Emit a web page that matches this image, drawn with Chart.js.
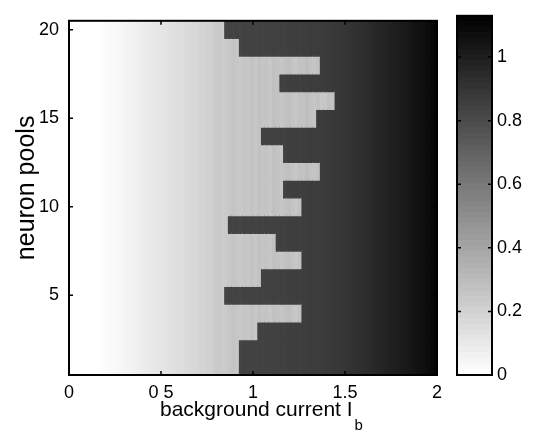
<!DOCTYPE html>
<html>
<head>
<meta charset="utf-8">
<script src="https://cdn.jsdelivr.net/npm/chart.js@4.4.1/dist/chart.umd.min.js"></script>
<style>
  html, body { margin: 0; padding: 0; background: #fff; }
  #wrap { position: relative; width: 535px; height: 438px; }
  #heat { position: absolute; left: 0; top: 0; }
  #bar { position: absolute; left: 440px; top: 0; }
</style>
</head>
<body>
<div id="wrap">
  <canvas id="heat" width="450" height="438"></canvas>
  <canvas id="bar" width="95" height="438"></canvas>
</div>
<script>
const FONT = '"Liberation Sans", Arial, Helvetica, sans-serif';

// neuron pools, bottom row first
const pools = ['1', '2', '3', '4', '5', '6', '7', '8', '9', '10',
               '11', '12', '13', '14', '15', '16', '17', '18', '19', '20'];

// background current grid
const currentStep = 0.02;
const currentCount = 100;

// current at which each pool jumps to the high state (pool 1 first)
const switchCurrent = [0.92, 0.92, 1.02, 1.26, 0.84, 1.04, 1.26, 1.12, 0.86, 1.26,
                       1.16, 1.36, 1.16, 1.04, 1.34, 1.44, 1.14, 1.36, 0.92, 0.84];

// low-state activity per current column, starting at I_b = 0
const lowBranch = [
  0, 0, 0, 0, 0, 0, 0, 0, 0.004, 0.014,
  0.016, 0.024, 0.026, 0.036, 0.04, 0.052, 0.054, 0.064, 0.068, 0.078,
  0.082, 0.092, 0.096, 0.106, 0.11, 0.12, 0.122, 0.132, 0.136, 0.148,
  0.148, 0.16, 0.164, 0.174, 0.178, 0.19, 0.192, 0.204, 0.206, 0.23,
  0.238, 0.226, 0.232, 0.25, 0.262, 0.248, 0.24, 0.256, 0.25, 0.264,
  0.246, 0.27, 0.258, 0.262, 0.248, 0.276, 0.266, 0.254, 0.268, 0.282,
  0.26, 0.25, 0.272, 0.264, 0.286, 0.27, 0.258, 0.276, 0.244, 0.25,
  0.28, 0.266
];

// high-state activity per current column, starting at I_b = 0.84
const highBranchStart = 0.84;
const highBranch = [
  0.826, 0.832, 0.828, 0.834, 0.83, 0.836, 0.832, 0.838, 0.834, 0.84,
  0.836, 0.842, 0.838, 0.846, 0.842, 0.848, 0.844, 0.852, 0.85, 0.856,
  0.852, 0.858, 0.856, 0.862, 0.86, 0.866, 0.864, 0.87, 0.872, 0.876,
  0.88, 0.886, 0.89, 0.898, 0.904, 0.912, 0.918, 0.926, 0.932, 0.94,
  0.948, 0.956, 0.962, 0.97, 0.978, 0.986, 0.994, 1.002, 1.012, 1.02,
  1.03, 1.04, 1.05, 1.06, 1.07, 1.082, 1.094, 1.108
];

const xTickText = ['0', '0 5', '1', '1.5', '2'];
const colorMax = 1.13;
const colorLevels = 64;

function activity(row, col) {
  const switchCol = Math.round(switchCurrent[row] / currentStep);
  if (col < switchCol) return lowBranch[col];
  return highBranch[col - Math.round(highBranchStart / currentStep)];
}

// reversed gray colormap: 0 -> white, colorMax -> black
function gray(v) {
  const t = Math.min(Math.max(v / colorMax, 0), 1);
  const g = Math.round(255 * (1 - t));
  return 'rgb(' + g + ',' + g + ',' + g + ')';
}

// box around the axes with short inward tick marks on all four sides
const framePlugin = {
  id: 'frame',
  afterDatasetsDraw(chart) {
    const { ctx, chartArea: a } = chart;
    const len = 4;
    ctx.save();
    ctx.strokeStyle = '#000';
    ctx.lineWidth = 1.5;
    Object.values(chart.scales).forEach(scale => {
      if (!scale.options.display) return;
      scale.ticks.forEach((tick, i) => {
        if (tick.label === '' || tick.label == null) return;
        const p = scale.getPixelForTick(i);
        ctx.beginPath();
        if (scale.isHorizontal()) {
          ctx.moveTo(p, a.bottom); ctx.lineTo(p, a.bottom - len);
          ctx.moveTo(p, a.top); ctx.lineTo(p, a.top + len);
        } else {
          ctx.moveTo(a.left, p); ctx.lineTo(a.left + len, p);
          ctx.moveTo(a.right, p); ctx.lineTo(a.right - len, p);
        }
        ctx.stroke();
      });
    });
    ctx.lineWidth = 2;
    ctx.strokeRect(a.left, a.top, a.right - a.left, a.bottom - a.top);
    ctx.restore();
  }
};

// axis titles; the x title carries a subscript
const titlePlugin = {
  id: 'titles',
  afterDraw(chart) {
    const { ctx, chartArea: a } = chart;
    ctx.save();
    ctx.fillStyle = '#000';
    ctx.textBaseline = 'alphabetic';
    ctx.textAlign = 'left';

    const main = 'background current I';
    ctx.font = '21px ' + FONT;
    const wMain = ctx.measureText(main).width;
    const x0 = 160;
    ctx.fillText(main, x0, 416);
    ctx.font = '15px ' + FONT;
    ctx.fillText('b', x0 + wMain + 2, 430);

    ctx.font = '25px ' + FONT;
    ctx.translate(27, (a.top + a.bottom) / 2 - 10);
    ctx.rotate(-Math.PI / 2);
    ctx.textAlign = 'center';
    ctx.textBaseline = 'middle';
    ctx.fillText('neuron pools', 0, 0);
    ctx.restore();
  }
};

const heatSets = [];
for (let c = 0; c < currentCount; c++) {
  heatSets.push({
    data: pools.map(() => [c * currentStep, (c + 1) * currentStep]),
    backgroundColor: pools.map((p, r) => gray(activity(r, c)))
  });
}

const tickFont = { family: FONT, size: 18 };

new Chart(document.getElementById('heat'), {
  type: 'bar',
  data: { labels: pools, datasets: heatSets },
  options: {
    indexAxis: 'y',
    responsive: false,
    animation: false,
    events: [],
    layout: { padding: { left: 0, top: 9, right: 13, bottom: 0 } },
    datasets: {
      bar: {
        grouped: false,
        barPercentage: 1,
        categoryPercentage: 1,
        borderWidth: 0,
        inflateAmount: 0.6
      }
    },
    plugins: { legend: { display: false }, tooltip: { enabled: false } },
    scales: {
      x: {
        type: 'linear',
        min: 0,
        max: 2,
        grid: { display: false, drawTicks: false },
        border: { display: false },
        ticks: {
          stepSize: 0.5,
          color: '#000',
          font: tickFont,
          padding: 7,
          maxRotation: 0,
          callback: (v, i) => xTickText[i]
        },
        afterFit: s => { s.height = 63; }
      },
      y: {
        type: 'category',
        reverse: true,
        grid: { display: false, drawTicks: false },
        border: { display: false },
        ticks: {
          color: '#000',
          font: tickFont,
          padding: 10,
          autoSkip: false,
          callback: function (v) {
            const lab = this.getLabelForValue(v);
            return Number(lab) % 5 === 0 ? lab : '';
          }
        },
        afterFit: s => { s.width = 69; }
      }
    }
  },
  plugins: [framePlugin, titlePlugin]
});

// colorbar: one floating bar per color level
const barSets = [];
for (let k = 0; k < colorLevels; k++) {
  const lo = colorMax * k / colorLevels;
  const hi = colorMax * (k + 1) / colorLevels;
  barSets.push({ data: [[lo, hi]], backgroundColor: gray((lo + hi) / 2) });
}

new Chart(document.getElementById('bar'), {
  type: 'bar',
  data: { labels: [''], datasets: barSets },
  options: {
    responsive: false,
    animation: false,
    events: [],
    layout: { padding: { left: 17, top: 10, right: 0, bottom: 63 } },
    datasets: {
      bar: {
        grouped: false,
        barPercentage: 1,
        categoryPercentage: 1,
        borderWidth: 0,
        inflateAmount: 0.6
      }
    },
    plugins: { legend: { display: false }, tooltip: { enabled: false } },
    scales: {
      x: { display: false },
      y: {
        position: 'right',
        min: 0,
        max: colorMax,
        grid: { display: false, drawTicks: false },
        border: { display: false },
        ticks: {
          stepSize: 0.2,
          includeBounds: false,
          color: '#000',
          font: tickFont,
          padding: 5,
          callback: v => String(Math.round(v * 10) / 10)
        },
        afterFit: s => { s.width = 43; }
      }
    }
  },
  plugins: [framePlugin]
});
</script>
</body>
</html>
